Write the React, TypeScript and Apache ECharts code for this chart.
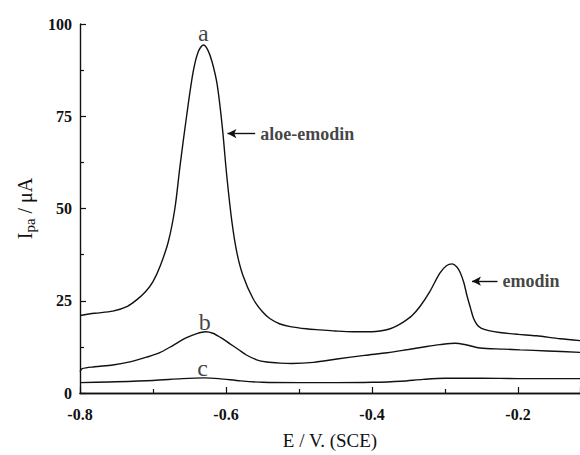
import React, { useEffect, useRef } from "react";
import * as echarts from "echarts";

const curveA: [number, number][] = [
  [-0.8, 21.0], [-0.78, 21.6], [-0.755, 22.2], [-0.735, 23.5], [-0.722, 25.3],
  [-0.71, 27.5], [-0.7, 30.2], [-0.69, 34.5], [-0.679, 41], [-0.67, 50],
  [-0.663, 61.5], [-0.654, 75], [-0.645, 87], [-0.638, 92.5], [-0.631, 94.3],
  [-0.625, 93], [-0.619, 89.7], [-0.612, 83.5], [-0.605, 72], [-0.599, 59],
  [-0.592, 46.6], [-0.585, 38], [-0.577, 32], [-0.563, 25.6], [-0.55, 22],
  [-0.54, 20.2], [-0.526, 18.7], [-0.512, 18.0], [-0.49, 17.4], [-0.471, 17.1],
  [-0.45, 16.8], [-0.426, 16.6], [-0.4, 16.6], [-0.389, 16.8], [-0.375, 17.4],
  [-0.366, 18.2], [-0.355, 19.5], [-0.345, 21], [-0.334, 23.5], [-0.321, 27.4],
  [-0.307, 32.5], [-0.298, 34.5], [-0.29, 35], [-0.284, 34.2], [-0.279, 32.6],
  [-0.274, 29.8], [-0.27, 26.5], [-0.265, 23], [-0.261, 20.3], [-0.256, 18.5],
  [-0.25, 17.5], [-0.24, 16.9], [-0.225, 16.4], [-0.2, 15.9], [-0.175, 15.5],
  [-0.142, 14.7], [-0.115, 14.2],
];

const curveB: [number, number][] = [
  [-0.8, 5.8], [-0.797, 6.6], [-0.78, 7.1], [-0.755, 7.6], [-0.73, 8.5],
  [-0.709, 9.7], [-0.69, 11.0], [-0.677, 12.4], [-0.665, 13.8], [-0.654, 15.0],
  [-0.64, 16.1], [-0.628, 16.6], [-0.618, 16.2], [-0.607, 15.0], [-0.595, 13.4],
  [-0.583, 11.8], [-0.572, 10.3], [-0.558, 9.0], [-0.544, 8.4], [-0.526, 8.1],
  [-0.51, 8.0], [-0.48, 8.3], [-0.448, 9.2], [-0.41, 10.2], [-0.379, 10.9],
  [-0.35, 11.8], [-0.325, 12.6], [-0.307, 13.1], [-0.286, 13.5], [-0.27, 13.0],
  [-0.252, 12.2], [-0.22, 11.9], [-0.197, 11.7], [-0.16, 11.4], [-0.115, 11.0],
];

const curveC: [number, number][] = [
  [-0.8, 2.8], [-0.76, 3.0], [-0.7, 3.4], [-0.66, 3.9], [-0.63, 4.1],
  [-0.61, 3.9], [-0.58, 3.3], [-0.55, 2.9], [-0.5, 2.8], [-0.45, 2.8],
  [-0.4, 2.9], [-0.36, 3.2], [-0.33, 3.7], [-0.3, 4.0], [-0.25, 4.0],
  [-0.2, 3.9], [-0.115, 3.9],
];

// curve letters: [x, y, text]
const curveLabels: [number, number, string][] = [
  [-0.631, 97.6, "a"],
  [-0.629, 19.2, "b"],
  [-0.632, 6.8, "c"],
];

// peak annotations: arrow from x1 to x2 at y, text
const peakNotes: { from: number; to: number; y: number; text: string }[] = [
  { from: -0.56, to: -0.598, y: 70.3, text: "aloe-emodin" },
  { from: -0.228, to: -0.263, y: 30.3, text: "emodin" },
];

const X_MIN = -0.8;
const X_MAX = -0.115;
const Y_MIN = 0;
const Y_MAX = 100;

const FONT = "'Liberation Serif', 'DejaVu Serif', serif";

export default function App() {
  const ref = useRef<HTMLDivElement>(null);

  useEffect(() => {
    if (!ref.current) return;
    const chart = echarts.init(ref.current, null, { renderer: "svg" });

    const lineSeries = (data: [number, number][]) => ({
      type: "line",
      data,
      showSymbol: false,
      symbol: "none",
      smooth: 0.3,
      lineStyle: { color: "#111", width: 1.4 },
      xAxisIndex: 0,
      yAxisIndex: 0,
      z: 3,
    });

    chart.setOption({
      animation: false,
      backgroundColor: "#fff",
      grid: { left: 80, right: 0, top: 24, bottom: 51, containLabel: false },
      xAxis: [
        {
          type: "value",
          min: X_MIN,
          max: X_MAX,
          interval: 0.2,
          name: "E / V. (SCE)",
          nameLocation: "middle",
          nameGap: 38,
          nameTextStyle: { fontFamily: FONT, fontSize: 19, color: "#111" },
          axisLine: { show: true, onZero: false, lineStyle: { color: "#111", width: 1.4 } },
          axisTick: { show: true, inside: true, length: 6, lineStyle: { color: "#111", width: 1.2 } },
          minorTick: { show: true, splitNumber: 2, length: 4, lineStyle: { color: "#111", width: 1.2 } },
          splitLine: { show: false },
          axisLabel: {
            fontFamily: FONT,
            fontSize: 16,
            fontWeight: "bold",
            color: "#111",
            margin: 13,
            showMaxLabel: false,
            formatter: (v: number) => v.toFixed(1),
          },
        },
        {
          type: "value",
          position: "top",
          min: X_MIN,
          max: X_MAX,
          axisLine: { show: true, lineStyle: { color: "#111", width: 1.4 } },
          axisTick: { show: false },
          axisLabel: { show: false },
          splitLine: { show: false },
        },
      ],
      yAxis: {
        type: "value",
        min: Y_MIN,
        max: Y_MAX,
        interval: 25,
        name: "{i|I}{sub|pa}{i| / μA}",
        nameLocation: "middle",
        nameRotate: 90,
        nameGap: 38,
        nameTextStyle: {
          fontFamily: FONT,
          color: "#111",
          rich: {
            i: { fontFamily: FONT, fontSize: 20, color: "#111", lineHeight: 24 },
            sub: { fontFamily: FONT, fontSize: 15, color: "#111", lineHeight: 24, padding: [10, 0, 0, 0] },
          },
        },
        axisLine: { show: true, onZero: false, lineStyle: { color: "#111", width: 1.4 } },
        axisTick: { show: true, inside: true, length: 6, lineStyle: { color: "#111", width: 1.2 } },
        minorTick: { show: true, splitNumber: 2, length: 4, lineStyle: { color: "#111", width: 1.2 } },
        splitLine: { show: false },
        axisLabel: {
          fontFamily: FONT,
          fontSize: 16,
          fontWeight: "bold",
          color: "#111",
          margin: 8,
        },
      },
      series: [
        lineSeries(curveA),
        lineSeries(curveB),
        lineSeries(curveC),
        {
          type: "scatter",
          data: curveLabels.map((d) => ({ value: [d[0], d[1]], name: d[2] })),
          symbolSize: 0,
          silent: true,
          label: {
            show: true,
            position: "inside",
            formatter: (p: any) => p.name,
            fontFamily: FONT,
            fontSize: 24,
            color: "#111",
          },
          z: 5,
        },
        {
          type: "scatter",
          data: peakNotes.map((d) => ({ value: [d.from, d.y], name: d.text })),
          symbolSize: 0,
          silent: true,
          label: {
            show: true,
            position: "right",
            distance: 5,
            formatter: (p: any) => p.name,
            fontFamily: FONT,
            fontSize: 18,
            fontWeight: "bold",
            color: "#111",
          },
          markLine: {
            silent: true,
            animation: false,
            symbol: ["none", "arrow"],
            symbolSize: [7, 9],
            label: { show: false },
            lineStyle: { color: "#111", width: 1.4, type: "solid" },
            data: peakNotes.map((d) => [
              { coord: [d.from, d.y] },
              { coord: [d.to, d.y] },
            ]),
          },
          z: 5,
        },
      ],
    });

    return () => chart.dispose();
  }, []);

  return (
    <div
      ref={ref}
      style={{ position: "fixed", left: 0, top: 0, width: 580, height: 455, background: "#fff" }}
    />
  );
}
